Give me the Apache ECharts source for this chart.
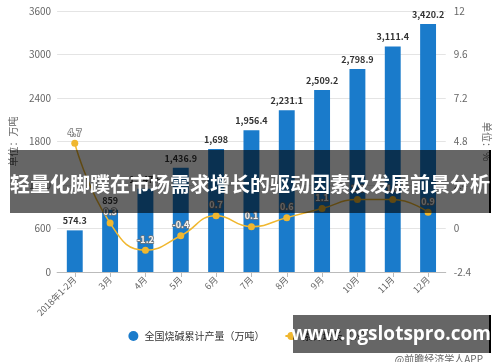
<!DOCTYPE html>
<html>
<head>
<meta charset="utf-8">
<script src="https://cdn.jsdelivr.net/npm/echarts@6/dist/echarts.min.js"></script>
<style>
html,body{margin:0;padding:0;background:#fff;}
#chart{width:500px;height:362px;}
</style>
</head>
<body>
<div id="chart"></div>
<script>
var categories = ['2018年1-2月','3月','4月','5月','6月','7月','8月','9月','10月','11月','12月'];
var production = [574.3, 859, 1147.6, 1436.9, 1698, 1956.4, 2231.1, 2509.2, 2798.9, 3111.4, 3420.2];
var growth = [4.7, 0.3, -1.2, -0.4, 0.7, 0.1, 0.6, 1.1, 1.6, 1.6, 0.9];
var leftTicks = {min: 0, max: 3600, interval: 600};
var rightTicks = {min: -2.4, max: 12, interval: 2.4};
var seriesNames = ['全国烧碱累计产量（万吨）', '累计增长（%）'];
var titleText = '轻量化脚蹼在市场需求增长的驱动因素及发展前景分析';
var siteText = 'www.pgslotspro.com';
var sourceText = '@前瞻经济学人APP';

var FONT = '"Noto Sans CJK SC", "Noto Sans", sans-serif';
var chart = echarts.init(document.getElementById('chart'));

function fmt(v){ return Number(v).toLocaleString('en-US',{maximumFractionDigits:1}); }

chart.setOption({
  animation: false,
  backgroundColor: '#fff',
  textStyle: {fontFamily: FONT},
  grid: {left: 53, right: 53, top: 11, bottom: 90, containLabel: false},
  legend: {
    bottom: 16, left: 'center',
    itemWidth: 12, itemHeight: 10, itemGap: 20,
    textStyle: {fontSize: 10, color: '#333', fontFamily: FONT},
    data: [
      {name: seriesNames[0], icon: 'circle'},
      {name: seriesNames[1]}
    ]
  },
  xAxis: {
    type: 'category',
    data: categories,
    axisLine: {lineStyle: {color: '#bbb'}},
    axisTick: {show: true, alignWithLabel: true, lineStyle: {color: '#bbb'}},
    axisLabel: {rotate: 45, interval: 0, fontSize: 9, color: '#666', margin: 6}
  },
  yAxis: [
    {
      type: 'value', min: leftTicks.min, max: leftTicks.max, interval: leftTicks.interval,
      name: '单位：万吨', nameLocation: 'middle', nameGap: 30,
      nameTextStyle: {fontSize: 10, color: '#666'},
      axisLine: {show: false}, axisTick: {show: false},
      axisLabel: {fontSize: 10, color: '#666', margin: 6, formatter: function(v){ return String(v); }},
      splitLine: {lineStyle: {color: '#e4e4e4'}}
    },
    {
      type: 'value', min: rightTicks.min, max: rightTicks.max, interval: rightTicks.interval,
      name: '单位：%', nameLocation: 'middle', nameGap: 26, nameRotate: -90,
      nameTextStyle: {fontSize: 10, color: '#666'},
      axisLine: {show: false}, axisTick: {show: false},
      axisLabel: {fontSize: 10, color: '#666', margin: 8, formatter: function(v){ return String(Math.round(v*10)/10); }},
      splitLine: {show: false}
    }
  ],
  series: [
    {
      name: seriesNames[0], type: 'bar', data: production, yAxisIndex: 0,
      barWidth: '45%',
      itemStyle: {color: '#1a7bcb'},
      label: {show: true, position: 'top', fontSize: 9, fontWeight: 'bold', color: '#333',
        formatter: function(p){ return fmt(p.value); }}
    },
    {
      name: seriesNames[1], type: 'line', data: growth, yAxisIndex: 1,
      smooth: true, symbol: 'circle', symbolSize: 7,
      lineStyle: {color: '#f0b72f', width: 1.5},
      itemStyle: {color: '#f0b72f'},
      label: {show: true, position: 'top', distance: 3, fontSize: 9, fontWeight: 'bold',
        color: '#f4f4f4', textBorderColor: '#777', textBorderWidth: 1.5,
        formatter: function(p){ return p.value; }},
      z: 5
    }
  ],
  graphic: [
    {type: 'rect', z: 100, shape: {x: 10, y: 150, width: 479, height: 63}, style: {fill: 'rgba(0,0,0,0.6)'}},
    {type: 'rect', z: 101, shape: {x: 489, y: 150, width: 2, height: 63}, style: {fill: '#000'}},
    {type: 'text', z: 102, x: 250, y: 184, style: {text: titleText, fill: '#fff', font: 'bold 20px ' + FONT, textAlign: 'center', textVerticalAlign: 'middle'}},
    {type: 'rect', z: 100, shape: {x: 293, y: 315, width: 196, height: 38}, style: {fill: 'rgba(0,0,0,0.6)'}},
    {type: 'rect', z: 101, shape: {x: 489, y: 315, width: 2, height: 38}, style: {fill: '#000'}},
    {type: 'text', z: 102, x: 391, y: 335, style: {text: siteText, fill: '#fff', font: 'bold 19px "Open Sans", "Noto Sans", sans-serif', textAlign: 'center', textVerticalAlign: 'middle'}},
    {type: 'text', z: 102, x: 483, y: 359, style: {text: sourceText, fill: '#666', font: '10px ' + FONT, textAlign: 'right', textVerticalAlign: 'middle'}}
  ]
});
</script>
</body>
</html>
